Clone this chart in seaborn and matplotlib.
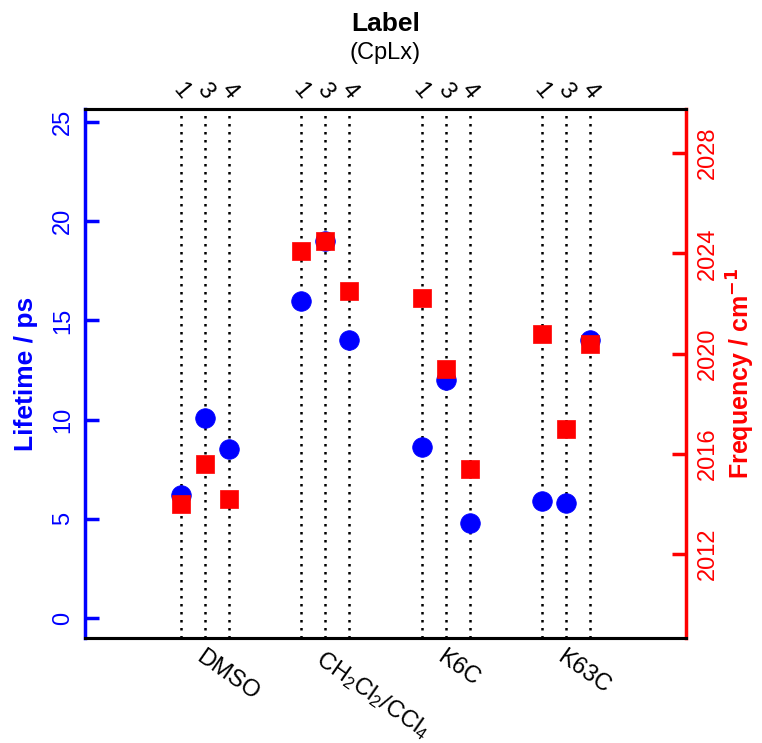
import matplotlib
matplotlib.use("Agg")
import matplotlib.pyplot as plt
import numpy as np
import pandas as pd
import seaborn as sns

# Values
solvents = ["DMSO", r"CH$_2$Cl$_2$/CCl$_4$", "K6C", "K63C"]
labels = ["1", "3", "4"]
lifetime = [[6.2, 10.1, 8.5],
            [16.0, 19.0, 14.0],
            [8.6, 12.0, 4.8],
            [5.9, 5.8, 14.0]]
frequency = [[2014.0, 2015.6, 2014.2],
             [2024.1, 2024.5, 2022.5],
             [2022.2, 2019.4, 2015.4],
             [2020.8, 2017.0, 2020.4]]

offsets = [-0.2, 0.0, 0.2]
rows = []
for i, solv in enumerate(solvents):
    for j, lab in enumerate(labels):
        rows.append((i + 1 + offsets[j], solv, lab, lifetime[i][j], frequency[i][j]))
df = pd.DataFrame(rows, columns=["pos", "solvent", "label", "lifetime", "freq"])

sns.set_style("white")
plt.rcParams["font.family"] = ["Liberation Sans", "DejaVu Sans"]
plt.rcParams["mathtext.default"] = "regular"
plt.rcParams["text.color"] = "black"
plt.rcParams["xtick.color"] = "black"
plt.rcParams["xtick.labelcolor"] = "black"

fig = plt.figure(figsize=(7.62, 7.43), dpi=100)
ax = fig.add_axes([0.1115, 0.1413, 0.7888, 0.712])
ax2 = ax.twinx()

# dotted guide lines at each label position
for p in df["pos"]:
    ax.axvline(p, color="black", ls=(0, (1, 2.2)), lw=1.8, zorder=0)

sns.scatterplot(data=df, x="pos", y="lifetime", ax=ax, color="blue", marker="o",
                s=200, edgecolor="blue", linewidth=0.5, legend=False, zorder=3)
sns.scatterplot(data=df, x="pos", y="freq", ax=ax2, color="red", marker="s",
                s=150, edgecolor="red", linewidth=0.5, legend=False, zorder=3)

ax.set_xlim(0, 5)
ax.set_ylim(-1.0, 25.65)
ax2.set_ylim(2008.65, 2029.76)

# left axis
ax.set_yticks(np.arange(0, 26, 5))
ax.tick_params(axis="y", colors="blue", direction="in", length=10, width=2.5,
               labelsize=17, labelrotation=90, pad=8)
for t in ax.get_yticklabels():
    t.set_va("center")
ax.set_ylabel("Lifetime / ps", color="blue", fontweight="bold", fontsize=19, labelpad=10)

# right axis
ax2.set_yticks(np.arange(2012, 2029, 4))
ax2.tick_params(axis="y", colors="red", direction="in", length=10, width=2.5,
                labelsize=17, labelrotation=90, pad=8)
for t in ax2.get_yticklabels():
    t.set_va("center")
ax2.set_ylabel(r"Frequency / cm$^{\mathbf{-1}}$", color="red", fontweight="bold",
               fontsize=18, labelpad=4)

# bottom axis
ax.set_xticks(range(1, len(solvents) + 1))
ax.set_xticklabels(solvents, rotation=-35, ha="left", rotation_mode="anchor", fontsize=17)
ax.tick_params(axis="x", direction="in", length=6, width=2.5, colors="black", pad=6)
ax.set_xlabel("")

# top axis with label numbers
top = ax.secondary_xaxis("top")
top.set_xticks(df["pos"])
top.set_xticklabels(df["label"], rotation=-50, fontsize=17, color="black")
top.tick_params(axis="x", length=0, pad=4, colors="black")
top.spines["top"].set_visible(False)

for a in (ax, ax2):
    a.spines["top"].set_color("black")
    a.spines["top"].set_linewidth(2.2)
    a.spines["bottom"].set_color("black")
    a.spines["bottom"].set_linewidth(2.2)
ax.spines["left"].set_color("blue")
ax.spines["left"].set_linewidth(2.5)
ax.spines["right"].set_visible(False)
ax2.spines["left"].set_visible(False)
ax2.spines["right"].set_color("red")
ax2.spines["right"].set_linewidth(2.5)

cx = 0.1115 + 0.7888 / 2
fig.text(cx, 0.968, "Label", ha="center", va="center", fontsize=19, fontweight="bold",
         color="black")
fig.text(cx, 0.928, "(CpLx)", ha="center", va="center", fontsize=17, color="black")

fig.savefig("out.png", dpi=100)
